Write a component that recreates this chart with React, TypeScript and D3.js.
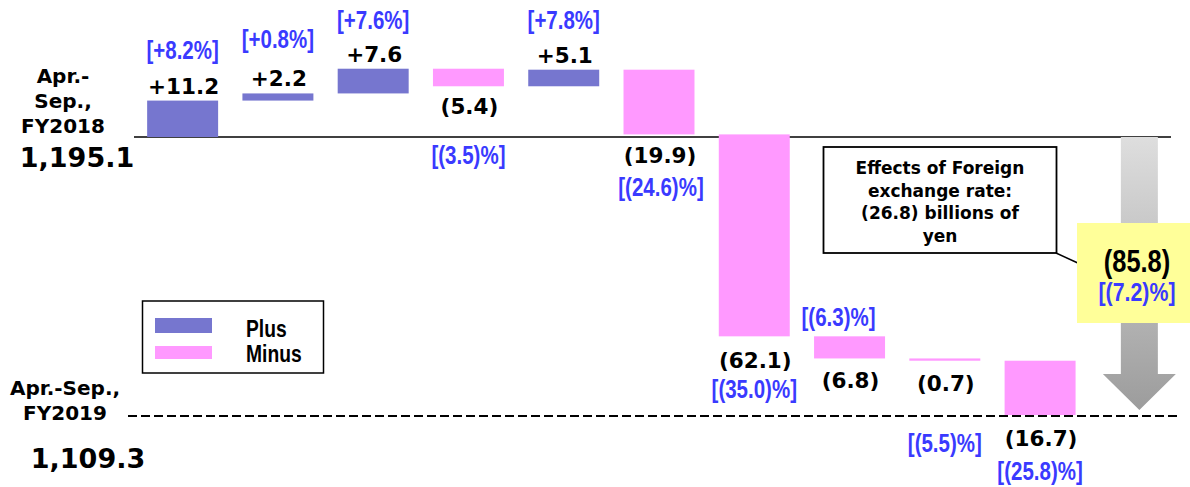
import React from "react";
import * as d3 from "d3";

// Net sales bridge: Apr.-Sep. FY2018 -> Apr.-Sep. FY2019 (billions of yen)
const startValue = 1195.1;
const endValue = 1109.3;
const totalChange = -85.8;
const totalChangePct = -7.2;
const changes = [11.2, 2.2, 7.6, -5.4, 5.1, -19.9, -62.1, -6.8, -0.7, -16.7];
const changePcts = [8.2, 0.8, 7.6, -3.5, 7.8, -24.6, -35.0, -6.3, -5.5, -25.8];
const legendItems = ["Plus", "Minus"];
const calloutLines = ["Effects of Foreign", "exchange rate:", "(26.8) billions of", "yen"];

// label placement: [value label dy, pct label dy, pct dx]; dy measured from the bar's
// top (rising bars) or bottom (falling bars); pct dy < 0 on a falling bar means above its top
const labelLayout: [number, number, number][] = [
  [-7, -42, 0],
  [-7, -45, 0],
  [-7, -40, 0],
  [28, 78, 0],
  [-7, -41, 0],
  [29, 62, 2],
  [32, 62, 0],
  [30, -10, -11],
  [30, 91, 0],
  [31, 65, 0],
];

const W = 1190;
const H = 487;
const PLUS = "#7676cf";
const MINUS = "#ff99ff";
const BLUE = "#3a3aff";
const HEAVY = "'DejaVu Sans', Verdana, sans-serif";
const NARROW = "'Liberation Sans', Arial, sans-serif";
const SQUEEZE = 0.82;

const fmtValue = (v: number) => (v >= 0 ? `+${v.toFixed(1)}` : `(${Math.abs(v).toFixed(1)})`);
const fmtPct = (v: number) => (v >= 0 ? `[+${v.toFixed(1)}%]` : `[(${Math.abs(v).toFixed(1)})%]`);
const fmtTotal = d3.format(",.1f");

// condensed sans text, horizontally squeezed around its anchor point
function NarrowText(props: {
  x: number;
  y: number;
  size: number;
  fill: string;
  bold?: boolean;
  anchor?: "start" | "middle" | "end";
  children: React.ReactNode;
}) {
  return (
    <text
      transform={`translate(${props.x},${props.y}) scale(${SQUEEZE},1)`}
      textAnchor={props.anchor ?? "middle"}
      fontFamily={NARROW}
      fontWeight={props.bold ? "bold" : "normal"}
      fontSize={props.size}
      fill={props.fill}
    >
      {props.children}
    </text>
  );
}

export default function App() {
  const x = d3
    .scaleBand<number>()
    .domain(d3.range(changes.length + 1))
    .range([135, 1183])
    .paddingInner(0.255)
    .paddingOuter(0.1275);
  const y = d3.scaleLinear().domain([endValue, startValue]).range([416, 137]);

  let running = startValue;
  const bars = changes.map((c, i) => {
    const from = running;
    const to = running + c;
    running = to;
    return { i, c, pct: changePcts[i], top: y(Math.max(from, to)), bottom: y(Math.min(from, to)) };
  });

  const bw = x.bandwidth();
  const arrowCx = (x(changes.length) as number) + bw / 2 + 4;
  const shaftHalf = 18.5;
  const headHalf = 36.5;
  const yStart = y(startValue);
  const yEnd = y(endValue);
  const headTop = yEnd - 42;
  const tipY = yEnd - 6;

  return (
    <svg width={W} height={H} style={{ position: "absolute", left: 0, top: 0, background: "#fff" }}>
      <defs>
        <linearGradient id="arrowFill" x1="0" y1="0" x2="0" y2="1">
          <stop offset="0%" stopColor="#dedede" />
          <stop offset="100%" stopColor="#9c9c9c" />
        </linearGradient>
      </defs>

      {/* baseline of the starting period */}
      <line x1={134} x2={1171} y1={yStart} y2={yStart} stroke="#000" strokeWidth={1.6} />
      {/* dashed line of the ending period */}
      <line x1={128} x2={1178} y1={yEnd} y2={yEnd} stroke="#000" strokeWidth={2} strokeDasharray="9 4" />

      {/* total change arrow */}
      <path
        d={`M${arrowCx - shaftHalf},${yStart} L${arrowCx + shaftHalf},${yStart} L${arrowCx + shaftHalf},${headTop} L${arrowCx + headHalf},${headTop} L${arrowCx},${tipY} L${arrowCx - headHalf},${headTop} L${arrowCx - shaftHalf},${headTop} Z`}
        fill="url(#arrowFill)"
      />

      {/* waterfall bars */}
      {bars.map((b) => (
        <rect
          key={`bar-${b.i}`}
          x={x(b.i)}
          y={b.top}
          width={bw}
          height={Math.max(b.bottom - b.top, 1.5)}
          fill={b.c >= 0 ? PLUS : MINUS}
        />
      ))}

      {/* value and percentage labels */}
      {bars.map((b) => {
        const cx = (x(b.i) as number) + bw / 2;
        const [vDy, pDy, pDx] = labelLayout[b.i];
        const up = b.c >= 0;
        const vy = up ? b.top + vDy : b.bottom + vDy;
        const py = up ? b.top + pDy : pDy < 0 ? b.top + pDy : b.bottom + pDy;
        return (
          <g key={`lbl-${b.i}`}>
            <text
              x={cx + 1}
              y={vy}
              textAnchor="middle"
              fontFamily={HEAVY}
              fontWeight="bold"
              fontSize={21.5}
              fill="#000"
            >
              {fmtValue(b.c)}
            </text>
            <NarrowText x={cx + pDx} y={py} size={25} fill={BLUE} bold>
              {fmtPct(b.pct)}
            </NarrowText>
          </g>
        );
      })}

      {/* period labels */}
      <g fontFamily={HEAVY} fontWeight="bold" fill="#000" textAnchor="middle">
        <text x={63} y={83} fontSize={20}>Apr.-</text>
        <text x={63} y={108} fontSize={20}>Sep.,</text>
        <text x={63} y={133} fontSize={20}>FY2018</text>
        <text x={77} y={167} fontSize={27}>{fmtTotal(startValue)}</text>
        <text x={65} y={395} fontSize={20}>Apr.-Sep.,</text>
        <text x={65} y={420} fontSize={20}>FY2019</text>
        <text x={88} y={468} fontSize={27}>{fmtTotal(endValue)}</text>
      </g>

      {/* legend */}
      <rect x={142.5} y={301} width={181} height={72} fill="#fff" stroke="#000" strokeWidth={1.5} />
      {legendItems.map((name, i) => (
        <g key={name}>
          <rect x={155} y={318 + i * 28} width={57} height={i === 0 ? 15 : 13} fill={i === 0 ? PLUS : MINUS} />
          <NarrowText x={246} y={337 + i * 25} size={23.5} fill="#000" bold anchor="start">
            {name}
          </NarrowText>
        </g>
      ))}

      {/* foreign exchange callout */}
      <line x1={1056} y1={253} x2={1080} y2={264} stroke="#000" strokeWidth={1.5} />
      <rect x={823.5} y={147} width={233} height={106} fill="#fff" stroke="#000" strokeWidth={1.8} />
      {calloutLines.map((t, i) => (
        <text
          key={t}
          x={940}
          y={174 + i * 22.5}
          textAnchor="middle"
          fontFamily={HEAVY}
          fontWeight="bold"
          fontSize={17}
          fill="#000"
        >
          {t}
        </text>
      ))}

      {/* total change box */}
      <rect x={1077} y={223} width={113} height={100} fill="#ffff99" />
      <NarrowText x={1137} y={272} size={31} fill="#000" bold>
        {fmtValue(totalChange)}
      </NarrowText>
      <NarrowText x={1137} y={301} size={26} fill={BLUE} bold>
        {fmtPct(totalChangePct)}
      </NarrowText>
    </svg>
  );
}
